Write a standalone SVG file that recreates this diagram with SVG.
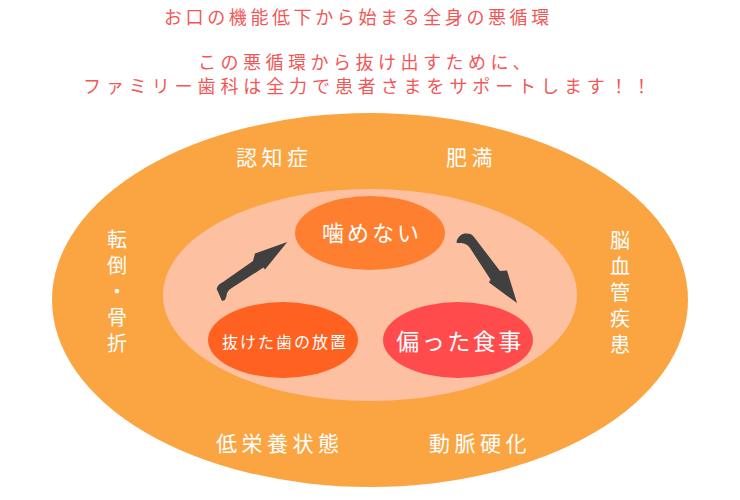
<svg xmlns="http://www.w3.org/2000/svg" width="740" height="500" viewBox="0 0 740 500">
<style>
text{font-family:"Noto Sans CJK JP","Noto Sans CJK SC",sans-serif;}
.title{fill:#F25757;font-size:18px;}
.lbl{fill:#ffffff;font-size:21px;letter-spacing:4.5px;}
.v{fill:#ffffff;font-size:20px;writing-mode:vertical-rl;letter-spacing:6px;}
.node{fill:#ffffff;text-anchor:middle;}
.arrow{fill:#404040;}
</style>
<rect width="740" height="500" fill="#ffffff"/>
<g id="title">
<text class="title" x="164" y="24" style="letter-spacing:3.6px">お口の機能低下から始まる全身の悪循環</text>
<text class="title" x="198" y="69" style="letter-spacing:4.5px">この悪循環から抜け出すために、</text>
<text class="title" x="83" y="93" style="letter-spacing:4.9px">ファミリー歯科は全力で患者さまをサポートします！！</text>
</g>
<g id="outer">
<ellipse cx="370" cy="300" rx="318" ry="187" fill="#FAA542"/>
<text class="lbl" x="236" y="165">認知症</text>
<text class="lbl" x="446" y="165">肥満</text>
<text class="lbl" x="216" y="451">低栄養状態</text>
<text class="lbl" x="429" y="451">動脈硬化</text>
<text class="v" x="117" y="229">転倒・骨折</text>
<text class="v" x="620" y="230">脳血管疾患</text>
</g>
<g id="inner">
<ellipse cx="370" cy="295" rx="207" ry="106" fill="#FDC0A0"/>
</g>
<g id="kamenai">
<ellipse cx="370" cy="233" rx="75" ry="37" fill="#FF7F30"/>
<text class="node" x="372" y="241" style="font-size:22px;letter-spacing:3px">噛めない</text>
</g>
<g id="nuketa">
<ellipse cx="283" cy="340" rx="75" ry="38" fill="#FF6120"/>
<text class="node" x="285" y="348" style="font-size:16px;letter-spacing:2px">抜けた歯の放置</text>
</g>
<g id="katayotta">
<ellipse cx="458" cy="340" rx="75" ry="38" fill="#FF4B4B"/>
<text class="node" x="460" y="350" style="font-size:23px;letter-spacing:2.5px">偏った食事</text>
</g>
<g id="connectors">
<path class="arrow" d="M 216.7 289 C 217 286 219 284 223 282 L 253 261 L 255 253.5 L 287.3 242 L 265 269.5 L 263.5 267.5 L 231 288.5 C 228 290.5 226.5 293 226.5 296 L 225 300 L 222 301 Z"/>
<path class="arrow" d="M 456.7 241 C 458 237 461 234 465 233.5 C 469 233 472 234 474 237 L 500 271 L 507 270.5 L 517 303 L 489 282.5 L 490.5 279.5 L 470 248 C 468 245 465 243.5 461 243 L 456.7 243 Z"/>
</g>
</svg>
